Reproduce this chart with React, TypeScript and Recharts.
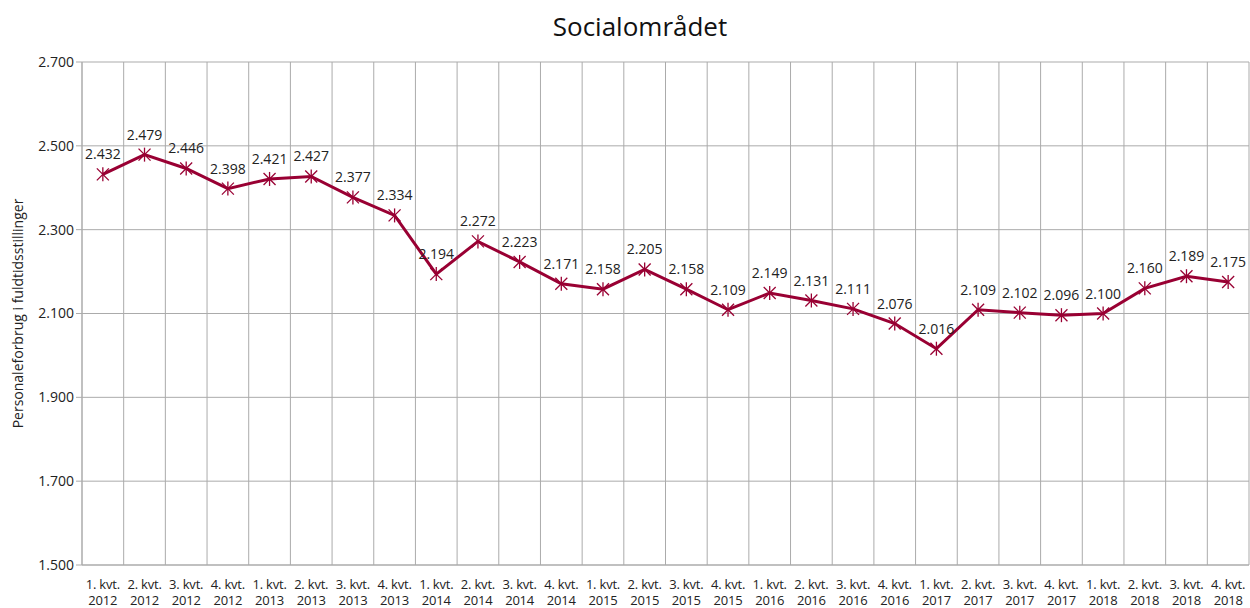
import React from 'react';
import { LineChart, Line, XAxis, YAxis, CartesianGrid, LabelList } from 'recharts';

const quarters = ['1. kvt.', '2. kvt.', '3. kvt.', '4. kvt.'];
const years = ['2012', '2013', '2014', '2015', '2016', '2017', '2018'];
const values = [
  2432, 2479, 2446, 2398, 2421, 2427, 2377, 2334,
  2194, 2272, 2223, 2171, 2158, 2205, 2158, 2109,
  2149, 2131, 2111, 2076, 2016, 2109, 2102, 2096,
  2100, 2160, 2189, 2175,
];
const yTicks = [1500, 1700, 1900, 2100, 2300, 2500, 2700];
const title = 'Socialområdet';
const yLabel = 'Personaleforbrug i fuldtidsstillinger';

const categories: { q: string; y: string }[] = [];
years.forEach((y) => quarters.forEach((q) => categories.push({ q, y })));
const data = categories.map((c, i) => ({ name: `${c.q}|${c.y}`, value: values[i], pos: i + 0.5 }));
const boundaryTicks = categories.map((_, i) => i).concat([categories.length]);

const fmt = (v: number) => {
  const s = String(Math.round(v));
  return s.replace(/\B(?=(\d{3})+(?!\d))/g, '.');
};

const FONT = '"Open Sans", "DejaVu Sans", sans-serif';
const LINE = '#990033';
const GRID = '#ababab';

const StarDot = (props: any) => {
  const { cx, cy } = props;
  if (cx == null || cy == null) return null;
  const r = 6;
  return (
    <g stroke={LINE} strokeWidth={1.3}>
      <line x1={cx - r} y1={cy - r} x2={cx + r} y2={cy + r} />
      <line x1={cx - r} y1={cy + r} x2={cx + r} y2={cy - r} />
      <line x1={cx} y1={cy - r - 1} x2={cx} y2={cy + r + 1} />
    </g>
  );
};

const XTick = (props: any) => {
  const { x, payload } = props;
  const [q, y] = String(payload.value).split('|');
  return (
    <text x={x} y={565} textAnchor="middle" fontFamily={FONT} fontSize={13} letterSpacing={-0.2} fill="#222">
      <tspan x={x} y={589}>{q}</tspan>
      <tspan x={x} y={605}>{y}</tspan>
    </text>
  );
};

const EmptyTick = () => <g />;

const YLabel = (props: any) => {
  const vb = props.viewBox || {};
  const cy = (vb.y || 0) + (vb.height || 0) / 2;
  const cx = 23;
  return (
    <text
      x={cx}
      y={cy}
      transform={`rotate(-90, ${cx}, ${cy})`}
      textAnchor="middle"
      fontFamily={FONT}
      fontSize={14}
      fill="#222"
    >
      {yLabel}
    </text>
  );
};

export default function App() {
  return (
    <div style={{ position: 'absolute', left: 0, top: 0, width: 1250, height: 608, background: '#fff' }}>
      <div
        style={{
          position: 'absolute',
          left: 0,
          width: 1280,
          top: 8,
          textAlign: 'center',
          fontFamily: FONT,
          fontSize: 26,
          color: '#111',
          lineHeight: '36px',
        }}
      >
        {title}
      </div>
      <LineChart
        width={1250}
        height={608}
        data={data}
        margin={{ top: 62, right: 1, bottom: 0, left: 0 }}
      >
        <XAxis
          xAxisId="grid"
          type="number"
          dataKey="pos"
          domain={[0, categories.length]}
          ticks={boundaryTicks}
          height={0}
          axisLine={false}
          tickLine={{ stroke: GRID }}
          tickSize={5}
          tick={<EmptyTick />}
          interval={0}
        />
        <XAxis
          dataKey="name"
          scale="band"
          height={43}
          interval={0}
          axisLine={{ stroke: GRID }}
          tickLine={false}
          tick={<XTick />}
        />
        <YAxis
          width={82}
          domain={[1500, 2700]}
          ticks={yTicks}
          interval={0}
          tickFormatter={fmt}
          axisLine={{ stroke: GRID }}
          tickLine={{ stroke: GRID }}
          tickSize={6}
          tick={{ fontFamily: FONT, fontSize: 14, fill: '#222' }}
          label={{ content: <YLabel /> } as any}
        />
        <CartesianGrid xAxisId="grid" stroke={GRID} strokeWidth={1} vertical={true} horizontal={true} />
        <Line
          type="linear"
          dataKey="value"
          stroke={LINE}
          strokeWidth={3}
          dot={<StarDot />}
          activeDot={false}
          isAnimationActive={false}
        >
          <LabelList
            dataKey="value"
            position="top"
            offset={15}
            formatter={(v: any) => fmt(Number(v))}
            style={{ fontFamily: FONT, fontSize: 14, fill: '#222' }}
          />
        </Line>
      </LineChart>
    </div>
  );
}
